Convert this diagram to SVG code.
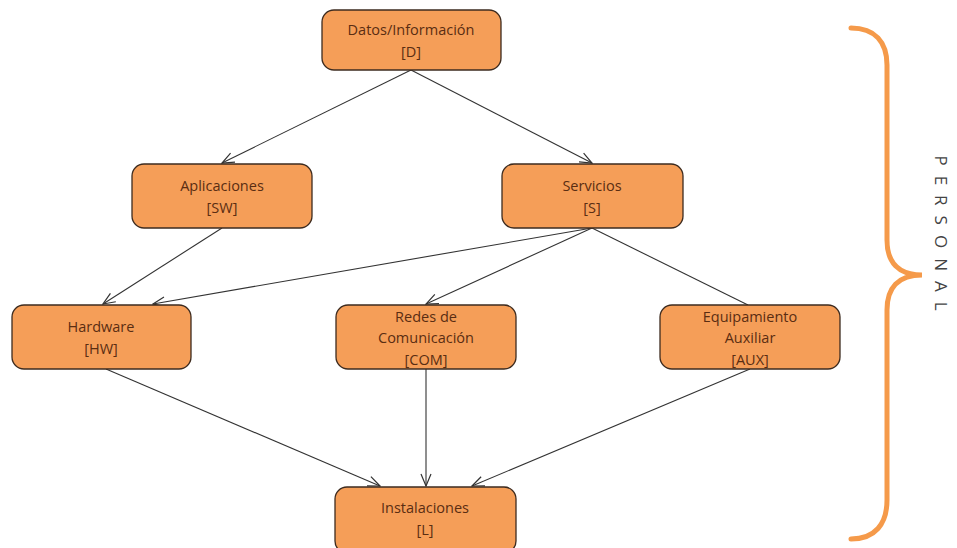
<svg xmlns="http://www.w3.org/2000/svg" width="957" height="548" viewBox="0 0 957 548">
<style>
.box{fill:#F59E58;stroke:#3d2b1f;stroke-width:1.3}
.t{font-family:"Open Sans","Liberation Sans",sans-serif;font-size:14.5px;fill:#5a2d12;text-anchor:middle}
.e{stroke:#333;stroke-width:1.1;fill:none}
</style>
<defs>
<marker id="a" markerWidth="14" markerHeight="12" refX="13" refY="6" orient="auto" markerUnits="userSpaceOnUse">
<polyline points="1,1 13,6 1,11" fill="none" stroke="#333" stroke-width="1.2"/>
</marker>
</defs>
<rect width="957" height="548" fill="#fff"/>
<g id="connectors">
<line class="e" x1="411" y1="70" x2="222" y2="163" marker-end="url(#a)"/>
<line class="e" x1="411" y1="70" x2="592" y2="163" marker-end="url(#a)"/>
<line class="e" x1="222" y1="228" x2="103" y2="304" marker-end="url(#a)"/>
<line class="e" x1="592" y1="228" x2="153" y2="304" marker-end="url(#a)"/>
<line class="e" x1="592" y1="228" x2="426" y2="304" marker-end="url(#a)"/>
<line class="e" x1="592" y1="228" x2="748" y2="305"/>
<line class="e" x1="106" y1="369" x2="380" y2="486" marker-end="url(#a)"/>
<line class="e" x1="426" y1="369" x2="426" y2="486" marker-end="url(#a)"/>
<line class="e" x1="750" y1="369" x2="472" y2="486" marker-end="url(#a)"/>
</g>
<g id="D"><rect class="box" x="322" y="10" width="179" height="60" rx="12"/>
<text class="t" x="411" y="35">Datos/Información</text><text class="t" x="411" y="57">[D]</text></g>
<g id="SW"><rect class="box" x="132" y="164" width="180" height="64" rx="12"/>
<text class="t" x="222" y="191">Aplicaciones</text><text class="t" x="222" y="213">[SW]</text></g>
<g id="S"><rect class="box" x="502" y="164" width="181" height="64" rx="12"/>
<text class="t" x="592" y="191">Servicios</text><text class="t" x="592" y="213">[S]</text></g>
<g id="HW"><rect class="box" x="12" y="305" width="179" height="64" rx="12"/>
<text class="t" x="101" y="332">Hardware</text><text class="t" x="101" y="354">[HW]</text></g>
<g id="COM"><rect class="box" x="336" y="305" width="180" height="64" rx="12"/>
<text class="t" x="426" y="322">Redes de</text><text class="t" x="426" y="343">Comunicación</text><text class="t" x="426" y="365">[COM]</text></g>
<g id="AUX"><rect class="box" x="660" y="305" width="180" height="64" rx="12"/>
<text class="t" x="750" y="322">Equipamiento</text><text class="t" x="750" y="343">Auxiliar</text><text class="t" x="750" y="365">[AUX]</text></g>
<g id="L"><rect class="box" x="335" y="487" width="181" height="66" rx="12"/>
<text class="t" x="425" y="513">Instalaciones</text><text class="t" x="425" y="535">[L]</text></g>
<g id="personal">
<path d="M851,28 C875,28 887,42 887,65 L887,240 C887,262 898,275 922,275 C898,275 887,288 887,310 L887,500 C887,524 875,539 851,539" fill="none" stroke="#F59A4A" stroke-width="5" stroke-linecap="round"/>
<text transform="translate(935,238) rotate(90)" font-family="'Open Sans','Liberation Sans',sans-serif" font-size="17" fill="#444" text-anchor="middle" letter-spacing="10">PERSONAL</text>
</g>
</svg>
